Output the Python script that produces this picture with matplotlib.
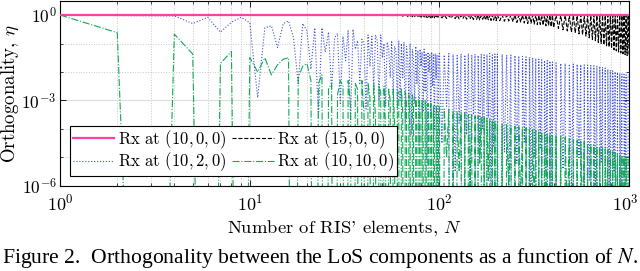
import numpy as np
import matplotlib
matplotlib.use('Agg')
import matplotlib.pyplot as plt
import matplotlib.transforms as mtransforms
from matplotlib.ticker import FixedLocator, NullFormatter

plt.rcParams['font.family'] = 'serif'
plt.rcParams['font.serif'] = ['cmr10']
plt.rcParams['mathtext.fontset'] = 'cm'
plt.rcParams['axes.unicode_minus'] = False
plt.rcParams['axes.formatter.use_mathtext'] = True

# Anzahl der RIS-Elemente N
n_low = list(range(1, 61))
n_dense = (list(range(61, 100)) + list(range(100, 200, 3))
           + list(range(202, 401, 6)) + list(range(412, 1001, 12)))
n_black_low = [1, 20, 40, 50, 60]

# Werte als log10(eta) (-30 = praktisch null)
log_rx_10_0_0 = [0.0, 0.0]
n_rx_10_0_0 = [1, 1000]

log_rx_15_0_0 = (
    [0.0, -0.003, -0.008, -0.015, -0.02]
    # 61-99
    + [0, -0.03, 0, -0.04, -0.01, -0.03, 0, -0.05, 0, -0.04,
       -0.01, -0.06, 0, -0.05, 0, -0.07, -0.01, -0.05, 0, -0.08,
       0, -0.06, -0.01, -0.08, 0, -0.09, 0, -0.07, -0.01, -0.1,
       0, -0.08, 0, -0.1, -0.01, -0.09, 0, -0.11, 0]
    # 100-199
    + [0, -0.1, 0, -0.12, -0.01, -0.11, 0, -0.13, 0, -0.14,
       -0.01, -0.12, 0, -0.15, 0, -0.14, -0.01, -0.16, 0, -0.15,
       0, -0.17, -0.01, -0.15, 0, -0.18, 0, -0.17, -0.01, -0.19,
       0, -0.18, 0, -0.2]
    # 202-400
    + [0, -0.2, 0, -0.22, -0.01, -0.21, 0, -0.24, 0, -0.26,
       -0.01, -0.25, 0, -0.28, 0, -0.3, -0.01, -0.29, 0, -0.32,
       0, -0.34, -0.01, -0.33, 0, -0.36, 0, -0.38, -0.01, -0.37,
       0, -0.41, 0, -0.44]
    # 412-1000
    + [0, -0.47, -0.01, -0.52, 0, -0.56, -0.01, -0.6, 0, -0.63,
       -0.01, -0.66, 0, -0.7, -0.01, -0.74, 0, -0.8, -0.01, -0.86,
       0, -0.9, -0.01, -0.96, 0, -1.0, -0.01, -1.05, 0, -1.08,
       -0.01, -1.12, 0, -1.17, -0.01, -1.22, 0, -1.26, -0.01, -1.3,
       0, -1.33, -0.01, -1.36, 0, -1.39, -0.01, -1.42, 0, -1.43]
)

log_rx_10_2_0 = (
    [0, -0.02, -0.03, -0.03, -0.30, -0.08, -0.60, -0.25, -0.08, -0.27,
     -2.9, -0.45, -0.38, -1.14, -0.30, -0.21, -0.8, -2.4, -0.30, -0.55,
     -1.9, -0.45, -3.6, -0.45, -1.3, -0.6, -2.6, -0.8, -0.65, -3.1,
     -0.75, -1.6, -0.55, -3.7, -0.5, -1.2, -0.9, -2.4, -0.85, -1.0,
     -3.3, -0.7, -1.8, -0.75, -2.6, -0.7, -0.9, -3.0, -0.7, -1.5,
     -1.0, -3.2, -0.95, -1.2, -2.2, -0.9, -2.8, -1.1, -1.3, -3.3]
    + [-0.9, -3.0, -1.0, -2.2, -0.95, -3.8, -1.1, -1.5, -2.9, -1.0,
       -4.2, -1.2, -1.6, -3.1, -1.1, -2.4, -1.25, -4.6, -1.2, -1.8,
       -1.3, -3.4, -1.2, -2.7, -1.35, -5.2, -1.3, -2.0, -1.4, -3.6,
       -1.3, -2.5, -1.4, -4.0, -1.35, -2.2, -1.4, -6.5, -1.4]
    + [-1.35, -4.5, -1.4, -3.2, -1.35, -30, -1.38, -5.5, -1.42, -3.8,
       -1.36, -30, -1.4, -4.2, -1.35, -6.8, -1.4, -3.5, -1.37, -30,
       -1.42, -5.0, -1.36, -4.0, -1.4, -30, -1.38, -3.6, -1.35, -7.0,
       -1.4, -4.6, -1.37, -30]
    + [-1.37, -30, -1.38, -4.8, -1.4, -6.0, -1.4, -30, -1.42, -5.2,
       -1.44, -30, -1.45, -4.5, -1.47, -30, -1.48, -6.5, -1.5, -5.0,
       -1.52, -30, -1.55, -4.7, -1.57, -30, -1.6, -5.5, -1.6, -30,
       -1.62, -6.0, -1.65, -30]
    + [-1.68, -30, -1.7, -5.4, -1.7, -30, -1.72, -6.2, -1.72, -30,
       -1.73, -5.0, -1.74, -30, -1.75, -30, -1.76, -5.8, -1.77, -30,
       -1.78, -6.5, -1.78, -30, -1.8, -5.2, -1.83, -30, -1.86, -30,
       -1.9, -6.0, -1.93, -30, -1.96, -5.5, -1.99, -30, -2.02, -30,
       -2.05, -6.8, -2.07, -30, -2.08, -5.6, -2.1, -30, -2.12, -2.1]
)

log_rx_10_10_0 = (
    [0, -0.62, -30, -0.67, -1.37, -30, -1.70, -1.28, -30, -1.49,
     -2.0, -1.5, -2.1, -1.75, -1.55, -1.5, -30, -2.2, -1.8, -1.7,
     -2.3, -30, -2.4, -2.1, -30, -2.6, -2.4, -30, -2.8, -2.3,
     -2.5, -30, -2.3, -3.2, -30, -2.4, -2.6, -30, -2.3, -3.5,
     -30, -2.4, -2.9, -30, -2.4, -3.6, -30, -2.5, -2.7, -30,
     -2.5, -4.0, -30, -2.6, -3.0, -30, -2.6, -3.8, -30, -2.7]
    + [-2.7, -30, -2.6, -3.4, -30, -2.7, -3.0, -30, -2.8, -4.2,
       -30, -2.8, -3.1, -30, -2.9, -3.8, -30, -2.9, -3.3, -30,
       -3.0, -4.5, -30, -3.0, -3.4, -30, -3.1, -4.0, -30, -3.1,
       -3.5, -30, -3.2, -4.8, -30, -3.2, -3.6, -30, -3.2]
    + [-3.25, -30, -3.3, -5.0, -3.3, -30, -3.35, -30, -3.4, -5.5,
       -3.4, -30, -3.45, -30, -3.5, -6.0, -3.5, -30, -3.55, -30,
       -3.55, -5.2, -3.6, -30, -3.6, -30, -3.62, -5.8, -3.65, -30,
       -3.68, -30, -3.7, -30]
    + [-3.8, -30, -3.82, -30, -3.85, -6.2, -3.87, -30, -3.9, -30,
       -3.92, -6.5, -3.95, -30, -3.97, -30, -4.0, -30, -4.02, -6.8,
       -4.05, -30, -4.07, -30, -4.1, -30, -4.12, -7.0, -4.15, -30,
       -4.17, -30, -4.2, -30]
    + [-4.22, -30, -4.25, -30, -4.3, -7.0, -4.33, -30, -4.37, -30,
       -4.4, -30, -4.43, -7.2, -4.46, -30, -4.5, -30, -4.53, -30,
       -4.56, -7.5, -4.6, -30, -4.63, -30, -4.66, -30, -4.7, -7.8,
       -4.73, -30, -4.77, -30, -4.8, -30, -4.83, -8.0, -4.86, -30,
       -4.9, -30, -4.92, -30, -4.95, -8.2, -4.97, -30, -5.0, -5.0]
)

labels = ['Rx at $(10,0,0)$', 'Rx at $(15,0,0)$',
          'Rx at $(10,2,0)$', 'Rx at $(10,10,0)$']

fig = plt.figure(figsize=(6.4, 2.71), dpi=100)
ax = fig.add_axes([0.094, 0.3137, 0.889, 0.6826])

l_black, = ax.plot(n_black_low + n_dense, 10.0 ** np.array(log_rx_15_0_0),
                   color='black', ls='--', lw=0.8, zorder=2)
l_blue, = ax.plot(n_low + n_dense, 10.0 ** np.array(log_rx_10_2_0),
                  color='#3d4fd6', ls=':', lw=0.8, zorder=2.1)
l_green, = ax.plot(n_low + n_dense, 10.0 ** np.array(log_rx_10_10_0),
                   color='#12a858', ls='-.', lw=0.8, zorder=2.2)
l_pink, = ax.plot(n_rx_10_0_0, 10.0 ** np.array(log_rx_10_0_0),
                  color='#ff3fa4', ls='-', lw=1.6, zorder=3)

ax.set_xscale('log')
ax.set_yscale('log')
ax.set_xlim(1, 1000)
ax.set_ylim(1e-6, 3.1)

ax.xaxis.set_major_locator(FixedLocator([1, 10, 100, 1000]))
ax.yaxis.set_major_locator(FixedLocator([1e-6, 1e-3, 1]))
ax.yaxis.set_minor_locator(FixedLocator([1e-5, 1e-4, 1e-2, 1e-1]))
ax.yaxis.set_minor_formatter(NullFormatter())
ax.xaxis.set_minor_formatter(NullFormatter())

ax.grid(True, which='major', color='#dcdcdc', lw=0.8, ls='-')
ax.grid(True, which='minor', color='#c8c8c8', lw=0.7, ls=':')
ax.set_axisbelow(True)
ax.tick_params(which='both', direction='in', top=True, right=True)
ax.tick_params(axis='x', which='major', labelsize=13, pad=5)
ax.tick_params(axis='y', which='major', labelsize=12.5, pad=2.5)
ax.tick_params(which='major', length=4, width=0.6)
ax.tick_params(which='minor', length=2.5, width=0.5)
for s in ax.spines.values():
    s.set_linewidth(0.8)

# letzte x-Beschriftung etwas nach links, damit sie nicht abgeschnitten wird
last = ax.get_xticklabels()[-1]
last.set_transform(last.get_transform()
                   + mtransforms.ScaledTranslation(-3 / 72, 0, fig.dpi_scale_trans))

ax.set_xlabel("Number of RIS' elements, $N$", fontsize=13.4, labelpad=3)
ax.set_ylabel('Orthogonality, $\\eta$', fontsize=13.6)
ax.yaxis.set_label_coords(-0.068, 0.5)

leg = ax.legend([l_pink, l_blue, l_black, l_green],
                [labels[0], labels[2], labels[1], labels[3]],
                ncol=2, loc='lower left', bbox_to_anchor=(0.0176, 0.054),
                fontsize=12, frameon=True, fancybox=False, framealpha=1,
                edgecolor='black', handlelength=2.5, handletextpad=0.2,
                columnspacing=0.35, borderpad=0.15, labelspacing=0.0,
                borderaxespad=0)
leg.get_frame().set_linewidth(0.8)

fig.text(0.5, 0.048, 'Figure 2.  Orthogonality between the LoS components as a function of $N$.',
         ha='center', va='center', fontsize=15.6, family='Liberation Serif',
         math_fontfamily='stix')

fig.savefig('out.png', dpi=100)
